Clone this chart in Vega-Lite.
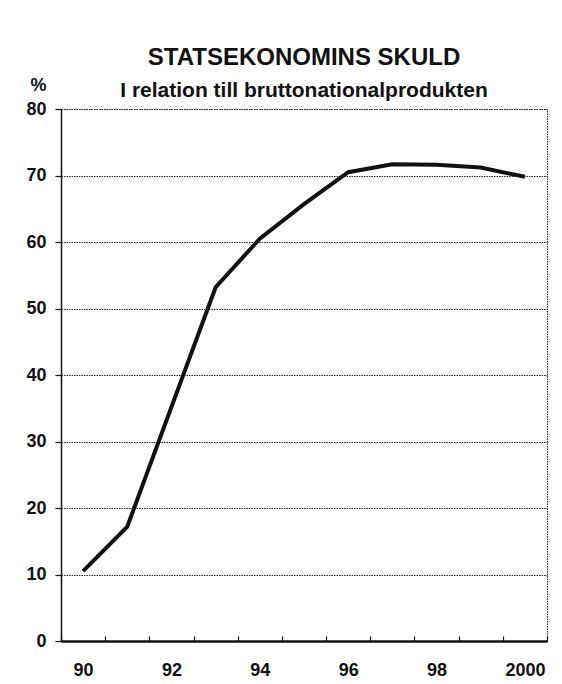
{
  "$schema": "https://vega.github.io/schema/vega-lite/v6.json",
  "width": 486,
  "height": 532,
  "autosize": {"type": "none"},
  "padding": {"left": 61, "top": 109, "right": 15, "bottom": 43},
  "background": "white",
  "title": {
    "text": "STATSEKONOMINS SKULD",
    "subtitle": "I relation till bruttonationalprodukten",
    "anchor": "middle",
    "font": "Liberation Sans",
    "fontSize": 24,
    "fontWeight": "bold",
    "color": "#111",
    "subtitleFont": "Liberation Sans",
    "subtitleFontSize": 21,
    "subtitleFontWeight": "bold",
    "subtitleColor": "#111",
    "subtitlePadding": 10,
    "offset": -25
  },
  "data": {
    "values": [
      {"year": "90", "debt": 10.5},
      {"year": "91", "debt": 17.2},
      {"year": "93", "debt": 53.2},
      {"year": "94", "debt": 60.5},
      {"year": "95", "debt": 65.7},
      {"year": "96", "debt": 70.5},
      {"year": "97", "debt": 71.7},
      {"year": "98", "debt": 71.6},
      {"year": "99", "debt": 71.2},
      {"year": "2000", "debt": 69.8}
    ]
  },
  "mark": {"type": "line", "color": "#111", "strokeWidth": 4},
  "encoding": {
    "x": {
      "field": "year",
      "type": "ordinal",
      "scale": {
        "type": "band",
        "domain": ["90", "91", "92", "93", "94", "95", "96", "97", "98", "99", "2000"],
        "paddingInner": 0,
        "paddingOuter": 0
      },
      "axis": {
        "title": null,
        "labelAngle": 0,
        "labelExpr": "indexof(['90','92','94','96','98','2000'], datum.label) >= 0 ? datum.label : ''",
        "labelFont": "Liberation Sans",
        "labelFontSize": 18,
        "labelFontWeight": "bold",
        "labelColor": "#111",
        "labelPadding": 25,
        "tickBand": "extent",
        "tickSize": -5,
        "tickColor": "#111",
        "tickWidth": 1.2,
        "domainColor": "#111",
        "domainWidth": 2.5,
        "grid": false
      }
    },
    "y": {
      "field": "debt",
      "type": "quantitative",
      "scale": {"domain": [0, 80], "nice": false},
      "axis": {
        "title": "%",
        "titleAngle": 0,
        "titleX": -23,
        "titleY": -24,
        "titleAlign": "center",
        "titleBaseline": "middle",
        "titleFont": "Liberation Sans",
        "titleFontSize": 18,
        "titleFontWeight": "bold",
        "titleColor": "#111",
        "values": [0, 10, 20, 30, 40, 50, 60, 70, 80],
        "labelFont": "Liberation Sans",
        "labelFontSize": 18,
        "labelFontWeight": "bold",
        "labelColor": "#111",
        "labelPadding": 9,
        "tickSize": 6,
        "tickColor": "#111",
        "tickWidth": 1.2,
        "domainColor": "#111",
        "domainWidth": 1.5,
        "grid": true,
        "gridColor": "#222",
        "gridWidth": 1,
        "gridDash": [1.5, 1]
      }
    }
  },
  "config": {
    "view": {"stroke": "#222", "strokeWidth": 1, "strokeDash": [1.5, 1]}
  }
}
